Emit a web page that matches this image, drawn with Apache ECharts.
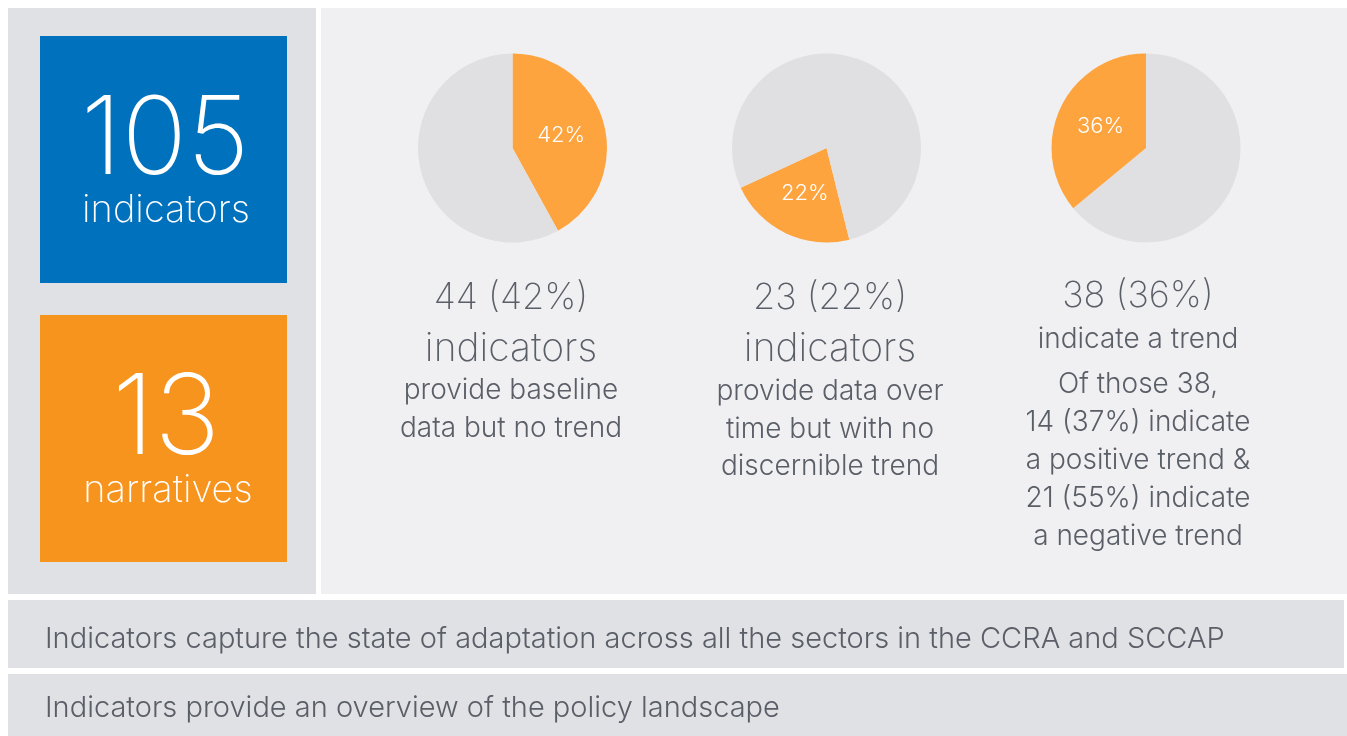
<!DOCTYPE html>
<html>
<head>
<meta charset="utf-8">
<script src="https://cdn.jsdelivr.net/npm/echarts@6/dist/echarts.min.js"></script>
<style>
html,body{margin:0;padding:0;background:#ffffff;}
#chart{width:1347px;height:736px;}
</style>
</head>
<body>
<div id="chart"></div>
<script>
// ---- data ----
const totalIndicators = 105;
const totalNarratives = 13;
const sharePercent = [42, 22, 36];          // orange share of each pie
const restPercent = [58, 78, 64];           // grey remainder
const sliceLabels = ['42%', '22%', '36%'];
const pieStartAngles = [90, -76, 90];
const pieOrder = ['shareFirst', 'shareFirst', 'restFirst'];
const headlines = ['44 (42%)', '23 (22%)', '38 (36%)'];
const subHeads = ['indicators', 'indicators', 'indicate a trend'];
const descriptions = [
  ['provide baseline', 'data but no trend'],
  ['provide data over', 'time but with no', 'discernible trend'],
  ['Of those 38,', '14 (37%) indicate', 'a positive trend &', '21 (55%) indicate', 'a negative trend']
];
const bottomNotes = [
  'Indicators capture the state of adaptation across all the sectors in the CCRA and SCCAP',
  'Indicators provide an overview of the policy landscape'
];

// ---- style ----
const FONT = 'Inter, Roboto, "Liberation Sans", sans-serif';
const TXT = '#5a5e67';
const ORANGE_SLICE = '#fea43f';
const GREY_SLICE = '#e0e0e2';

const pieCenters = [[512.5, 148], [826.5, 148], [1146, 148]];
const textCenters = [511, 830, 1138];

function t(x, baseline, str, size, color, align, weight) {
  return {
    type: 'text', silent: true,
    style: {
      x: x, y: baseline - size * 0.29, text: str,
      font: (weight || 300) + ' ' + size + 'px ' + FONT,
      fill: color, textAlign: align || 'center', textVerticalAlign: 'middle'
    }
  };
}

const graphics = [];
// panels
graphics.push({type:'rect', silent:true, shape:{x:8,y:8,width:308,height:586}, style:{fill:'#e0e1e5'}, z:-10});
graphics.push({type:'rect', silent:true, shape:{x:321,y:8,width:1026,height:586}, style:{fill:'#f0f0f2'}, z:-10});
graphics.push({type:'rect', silent:true, shape:{x:8,y:600,width:1336,height:68}, style:{fill:'#e0e1e5'}, z:-10});
graphics.push({type:'rect', silent:true, shape:{x:8,y:674,width:1339,height:62}, style:{fill:'#e0e1e5'}, z:-10});
// KPI boxes
graphics.push({type:'rect', silent:true, shape:{x:40,y:36,width:247,height:247}, style:{fill:'#0071bc'}});
graphics.push({type:'rect', silent:true, shape:{x:40,y:315,width:247,height:247}, style:{fill:'#f7941e'}});
graphics.push(t(165, 173, String(totalIndicators), 108, '#ffffff', 'center', 200));
graphics.push(t(166, 222, 'indicators', 38, '#ffffff', 'center', 200));
graphics.push(t(166, 453, String(totalNarratives), 111, '#ffffff', 'center', 200));
graphics.push(t(168, 502, 'narratives', 38, '#ffffff', 'center', 200));

// pie captions
for (let i = 0; i < 3; i++) {
  const cx = textCenters[i];
  graphics.push(t(cx, i === 2 ? 307 : 309, headlines[i], 36, TXT, 'center', 200));
  if (i < 2) {
    graphics.push(t(cx, 361, subHeads[i], 39, TXT, 'center', 200));
    const base = i === 0 ? 399 : 400;
    descriptions[i].forEach((line, k) => graphics.push(t(cx, base + k * 37.5, line, 28, TXT)));
  } else {
    graphics.push(t(cx, 348, subHeads[i], 28, TXT));
    descriptions[i].forEach((line, k) => graphics.push(t(cx, 393 + k * 38, line, 28, TXT)));
  }
}
// bottom notes
graphics.push(t(45, 648, bottomNotes[0], 29, TXT, 'left'));
graphics.push(t(45, 717, bottomNotes[1], 29, TXT, 'left'));

const series = sharePercent.map((v, i) => {
  const share = {value: v, name: 'share', itemStyle: {color: ORANGE_SLICE},
    label: {show: true, position: 'inside', formatter: sliceLabels[i], color: '#ffffff',
            fontFamily: FONT, fontWeight: 300, fontSize: 22}};
  const rest = {value: restPercent[i], name: 'rest', itemStyle: {color: GREY_SLICE}, label: {show: false}};
  return {
    type: 'pie',
    center: pieCenters[i],
    radius: [0, 94.5],
    startAngle: pieStartAngles[i],
    clockwise: true,
    silent: true,
    animation: false,
    labelLine: {show: false},
    itemStyle: {borderWidth: 0},
    emphasis: {disabled: true},
    data: pieOrder[i] === 'shareFirst' ? [share, rest] : [rest, share]
  };
});

const chart = echarts.init(document.getElementById('chart'), null, {renderer: 'canvas'});
chart.setOption({
  animation: false,
  backgroundColor: '#ffffff',
  graphic: graphics,
  series: series
});
</script>
</body>
</html>
